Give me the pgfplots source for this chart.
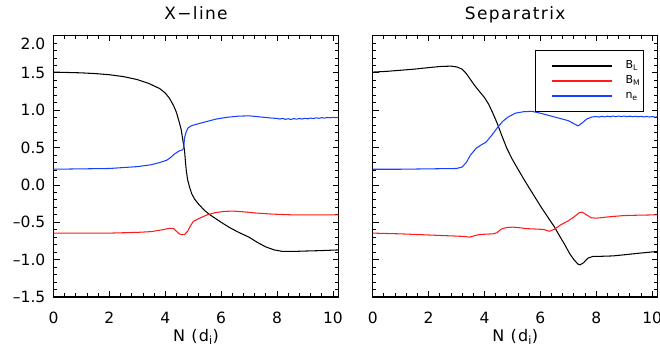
\documentclass[border=0pt]{standalone}
\usepackage{pgfplots}
\pgfplotsset{compat=1.18}
\usepackage{fontspec}
\setmainfont{DejaVu Sans}
\newfontfamily\ttlfont[LetterSpace=8]{DejaVu Sans}
\definecolor{myblue}{rgb}{0.1,0.25,1}
\definecolor{myred}{rgb}{1,0.1,0.1}
\begin{document}
\begin{tikzpicture}[x=1pt,y=1pt]
\path[use as bounding box] (0,0) rectangle (660,352);
\pgfplotsset{
  myax/.style={
    scale only axis, width=285pt, height=261.5pt,
    anchor=south west,
    xmin=0, xmax=10.2, ymin=-1.5, ymax=2.0,
    xtick={0,2,4,6,8,10}, xticklabels={0,2,4,6,8,10},
    ytick={-1.5,-1,-0.5,0,0.5,1,1.5,2},
    minor x tick num=4, minor y tick num=4,
    tick align=inside,
    major tick length=6pt, minor tick length=3.5pt,
    axis line style={line width=1.1pt},
    every tick/.style={black, line width=0.8pt},
    font=\fontsize{15.5}{19}\selectfont,
    xticklabel style={anchor=base, inner sep=0pt, yshift=-26.3pt},
    yticklabel style={anchor=east, inner sep=0pt, xshift=-8pt},
    title style={at={(0.5,1)}, anchor=base, inner sep=0pt, yshift=10pt,
      font=\ttlfont\fontsize{17}{20}\selectfont},
    xlabel style={at={(0.5,0)}, anchor=base, inner sep=0pt, yshift=-44.7pt,
      font=\ttlfont\fontsize{16}{19}\selectfont},
    xlabel={N (d\textsubscript{i})},
    clip=true,
    every axis plot/.append style={line width=1.05pt},
  }
}
\begin{axis}[myax, at={(53.5pt,55pt)}, title={X−line},
  yticklabels={–1.5,–1.0,–0.5,0.0,0.5,1.0,1.5,\raisebox{-8pt}[\height][0pt]{2.0}}]
\addplot[draw=black] coordinates {
(0,1.51) (0.5,1.505) (1,1.50) (1.5,1.49) (2,1.475) (2.5,1.45) (3,1.41) (3.4,1.36)
(3.8,1.29) (4.0,1.23) (4.15,1.16) (4.3,1.06) (4.4,0.97) (4.5,0.84) (4.57,0.74)
(4.63,0.60) (4.69,0.46) (4.72,0.32) (4.75,0.20) (4.8,0.07) (4.87,-0.03) (4.95,-0.12)
(5.05,-0.19) (5.2,-0.26) (5.4,-0.34) (5.6,-0.40) (5.8,-0.45) (6.0,-0.50) (6.3,-0.57)
(6.6,-0.63) (7.0,-0.70) (7.3,-0.77) (7.6,-0.83) (7.9,-0.87) (8.2,-0.89) (8.6,-0.89)
(9.0,-0.885) (9.5,-0.88) (10.2,-0.87)};
\addplot[draw=myred] coordinates {
(0,-0.645) (1,-0.645) (2,-0.645) (3,-0.635) (3.5,-0.625) (3.9,-0.60) (4.15,-0.58)
(4.3,-0.585) (4.4,-0.62) (4.5,-0.655) (4.6,-0.665) (4.7,-0.66) (4.8,-0.62) (4.9,-0.55)
(5.0,-0.49) (5.2,-0.45) (5.5,-0.40) (5.8,-0.37) (6.1,-0.355) (6.4,-0.35) (6.8,-0.36)
(7.2,-0.375) (7.8,-0.39) (8.5,-0.40) (10.2,-0.40)};
\addplot[draw=myblue] coordinates {
(0,0.21) (1,0.215) (2,0.22) (3,0.245) (3.5,0.27) (3.8,0.30) (4.05,0.33) (4.2,0.37)
(4.35,0.42) (4.5,0.455) (4.62,0.47) (4.66,0.50) (4.69,0.63) (4.74,0.70) (4.81,0.76)
(4.9,0.785) (5.0,0.80) (5.2,0.82) (5.5,0.85) (5.8,0.88) (6.2,0.905) (6.6,0.92)
(7.0,0.925) (7.4,0.91) (7.8,0.895) (8.0,0.89) (8.1,0.882) (8.2,0.89) (8.3,0.878)
(8.4,0.886) (8.5,0.876) (8.6,0.888) (8.7,0.88) (8.8,0.89) (8.9,0.882) (9.0,0.892)
(9.1,0.885) (9.2,0.895) (9.3,0.888) (9.4,0.898) (9.5,0.892) (9.6,0.9) (9.7,0.894)
(9.8,0.903) (9.9,0.898) (10.0,0.905) (10.1,0.9) (10.2,0.905)};
\end{axis}
\begin{axis}[myax, at={(372.7pt,55pt)}, title={Separatrix}, yticklabels={},
  legend cell align=left,
  legend image code/.code={\path (0pt,0pt) (86pt,0pt); \draw[#1, line width=1.4pt] (14pt,0pt) -- (74pt,0pt);},
  legend style={at={(rel axis cs:0.9507,0.9437)}, anchor=north east,
    draw=black, line width=0.9pt, inner xsep=2pt, inner ysep=9pt,
    font=\fontsize{11}{13}\selectfont, row sep=2pt,
    nodes={inner sep=1pt, text height=8pt, text depth=3pt}}]
\addlegendimage{draw=black}
\addlegendentry{B\textsubscript{L}}
\addlegendimage{draw=myred}
\addlegendentry{B\textsubscript{M}}
\addlegendimage{draw=myblue}
\addlegendentry{n\textsubscript{e}}
\addplot[draw=black, forget plot] coordinates {
(0,1.51) (0.5,1.52) (1.0,1.535) (1.5,1.55) (2.0,1.57) (2.4,1.585) (2.8,1.59) (3.0,1.58)
(3.2,1.55) (3.35,1.49) (3.5,1.41) (3.65,1.33) (3.8,1.26) (4.0,1.17) (4.15,1.08)
(4.3,0.96) (4.45,0.83) (4.6,0.68) (4.8,0.49) (5.0,0.34) (5.2,0.21) (5.42,0.07)
(5.7,-0.10) (6.0,-0.28) (6.3,-0.45) (6.5,-0.56) (6.7,-0.69) (6.86,-0.79) (7.05,-0.92)
(7.22,-1.01) (7.35,-1.06) (7.42,-1.07) (7.55,-1.04) (7.7,-0.98) (7.9,-0.955)
(8.2,-0.955) (8.6,-0.95) (9.0,-0.935) (9.5,-0.915) (10.2,-0.89)};
\addplot[draw=myred, forget plot] coordinates {
(0,-0.645) (1,-0.655) (2,-0.67) (3,-0.685) (3.3,-0.69) (3.45,-0.70) (3.6,-0.685)
(3.8,-0.665) (4.0,-0.66) (4.3,-0.655) (4.45,-0.64) (4.6,-0.59) (4.8,-0.57) (5.0,-0.565)
(5.2,-0.57) (5.5,-0.585) (5.8,-0.59) (6.1,-0.595) (6.32,-0.62) (6.5,-0.595) (6.7,-0.54)
(7.0,-0.48) (7.2,-0.43) (7.4,-0.37) (7.5,-0.365) (7.65,-0.40) (7.82,-0.44) (8.0,-0.445)
(8.5,-0.425) (9.0,-0.41) (9.5,-0.405) (10.2,-0.40)};
\addplot[draw=myblue, forget plot] coordinates {
(0,0.21) (1,0.21) (2,0.215) (3.0,0.22) (3.2,0.24) (3.35,0.30) (3.5,0.40) (3.7,0.49)
(3.9,0.54) (4.05,0.57) (4.25,0.66) (4.45,0.76) (4.65,0.85) (4.85,0.91) (5.1,0.96)
(5.4,0.98) (5.7,0.985) (6.0,0.96) (6.3,0.93) (6.7,0.89) (7.0,0.86) (7.2,0.82)
(7.35,0.79) (7.5,0.83) (7.65,0.88) (7.85,0.91) (8.0,0.915) (8.1,0.908) (8.2,0.918)
(8.3,0.91) (8.4,0.92) (8.5,0.912) (8.6,0.922) (8.7,0.914) (8.8,0.922) (8.9,0.915)
(9.0,0.922) (9.1,0.914) (9.2,0.92) (9.3,0.913) (9.4,0.919) (9.5,0.912) (9.6,0.918)
(9.7,0.91) (9.8,0.916) (9.9,0.909) (10.0,0.914) (10.1,0.908) (10.2,0.91)};
\end{axis}
\end{tikzpicture}
\end{document}
